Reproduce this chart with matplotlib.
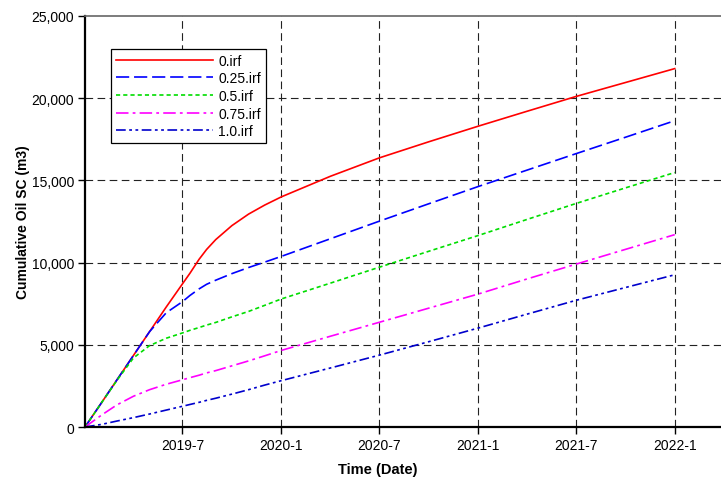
import pandas as pd
import matplotlib
matplotlib.use("Agg")
import matplotlib.pyplot as plt
import matplotlib.dates as mdates
from matplotlib.ticker import FixedLocator, FuncFormatter

plt.rcParams['font.family'] = ['Liberation Sans', 'DejaVu Sans']
plt.rcParams['lines.scale_dashes'] = False

# data
dates = ["2019-01-01", "2019-02-01", "2019-03-01", "2019-04-01", "2019-05-01",
         "2019-06-01", "2019-07-01", "2019-07-15", "2019-08-01", "2019-08-15",
         "2019-09-01", "2019-10-01", "2019-11-01", "2019-12-01", "2020-01-01",
         "2020-04-01", "2020-07-01", "2020-10-01", "2021-01-01", "2021-04-01",
         "2021-07-01", "2021-10-01", "2022-01-01"]
irf_0 = [0, 1490, 2850, 4350, 5800, 7300, 8700, 9350, 10200, 10800,
         11400, 12250, 12950, 13500, 14000,
         15250, 16370, 17350, 18300, 19200, 20100, 20950, 21800]
irf_025 = [0, 1490, 2850, 4350, 5800, 6950, 7620, 8000, 8400, 8680,
           8930, 9330, 9700, 10030, 10380,
           11450, 12520, 13580, 14630, 15620, 16620, 17620, 18630]
irf_05 = [0, 1490, 2820, 4200, 4950, 5400, 5720, 5880, 6050, 6200,
          6360, 6700, 7030, 7400, 7790,
          8750, 9720, 10690, 11650, 12620, 13590, 14540, 15480]
irf_075 = [0, 730, 1340, 1870, 2270, 2600, 2870, 3000, 3150, 3290,
           3430, 3720, 4020, 4330, 4660,
           5520, 6370, 7230, 8090, 9000, 9900, 10800, 11700]
irf_10 = [0, 160, 360, 570, 790, 1030, 1260, 1370, 1500, 1620,
          1750, 2000, 2270, 2550, 2820,
          3590, 4370, 5190, 6020, 6860, 7700, 8480, 9260]

labels = ['0.irf', '0.25.irf', '0.5.irf', '0.75.irf', '1.0.irf']
tick_dates = ["2019-07-01", "2020-01-01", "2020-07-01", "2021-01-01", "2021-07-01", "2022-01-01"]
tick_labels = ["2019-7", "2020-1", "2020-7", "2021-1", "2021-7", "2022-1"]
y_ticks = [0, 5000, 10000, 15000, 20000, 25000]

x = pd.to_datetime(dates)

fig = plt.figure(figsize=(7.21, 4.81), dpi=100)
ax = fig.add_axes([85 / 721, 1 - 428 / 481, 636 / 721, 411 / 481])

series = [irf_0, irf_025, irf_05, irf_075, irf_10]
colors = ['#ff0000', '#0000ff', '#00dd00', '#ff00ff', '#0000cc']
styles = ['-', (0, (9.5, 3.5)), (0, (3, 2.2)), (0, (9, 3, 2, 3)),
          (0, (7, 2.5, 2, 2.5, 2, 2.5))]

for vals, lab, c, ls in zip(series, labels, colors, styles):
    ax.plot(x, vals, color=c, linestyle=ls, linewidth=1.2, label=lab)

ax.set_xlim(pd.Timestamp("2019-01-01"), pd.Timestamp("2022-03-28"))
ax.set_ylim(0, 25000)

ax.xaxis.set_major_locator(FixedLocator(mdates.date2num(pd.to_datetime(tick_dates))))
ax.set_xticklabels(tick_labels)
ax.set_yticks(y_ticks)
ax.yaxis.set_major_formatter(FuncFormatter(lambda v, p: f"{int(v):,}"))
ax.tick_params(axis='both', labelsize=10, length=5, width=1, direction='out', pad=3)

ax.grid(True, color='#222222', linestyle=(0, (5.5, 3.2)), linewidth=0.8)
# the top gridline sits on the grey frame line; hide it
ax.get_ygridlines()[-1].set_visible(False)
ax.get_ygridlines()[0].set_visible(False)

for s in ['left', 'bottom']:
    ax.spines[s].set_linewidth(1.6)
    ax.spines[s].set_color('black')
ax.spines['top'].set_color('#666666')
ax.spines['top'].set_linewidth(1.2)
ax.spines['right'].set_visible(False)

ax.set_ylabel('Cumulative Oil SC (m3)', fontsize=10, fontweight='bold')
ax.yaxis.set_label_coords(-0.087, 0.5)
ax.set_xlabel('Time (Date)', fontsize=10.5, fontweight='bold')
ax.xaxis.set_label_coords(0.46, -0.085)

leg = ax.legend(loc='upper left', bbox_to_anchor=(0.041, 0.92), borderaxespad=0,
                fontsize=10, handlelength=7.0, handletextpad=0.35, labelspacing=0.26,
                borderpad=0.35, fancybox=False, framealpha=1, edgecolor='black')
leg.get_frame().set_linewidth(0.9)

fig.savefig('out.png', dpi=100)
